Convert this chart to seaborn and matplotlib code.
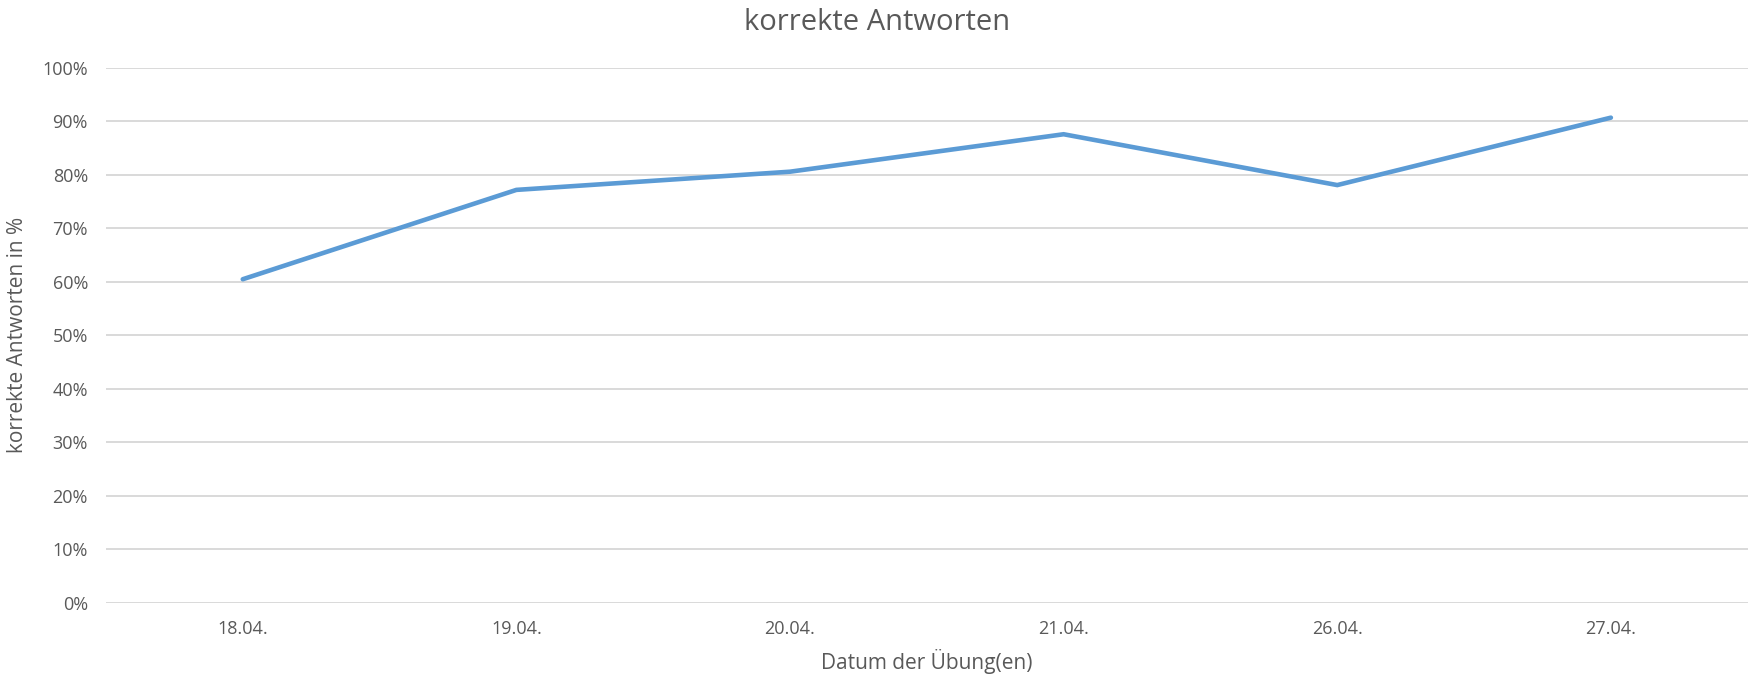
import pandas as pd
import matplotlib.pyplot as plt
import seaborn as sns
from matplotlib.ticker import PercentFormatter

# Data
dates = ["18.04.", "19.04.", "20.04.", "21.04.", "26.04.", "27.04."]
correct_share = [0.605, 0.772, 0.806, 0.876, 0.781, 0.907]

df = pd.DataFrame({"Datum": dates, "Korrekt": correct_share})

sns.set_theme(style="white")
plt.rcParams["font.family"] = ["Open Sans", "DejaVu Sans"]

text_col = "#595959"
grid_col = "#D9D9D9"

fig = plt.figure(figsize=(17.54, 6.79), dpi=100)
ax = fig.add_axes([0.0604, 0.112, 0.936, 0.788])

sns.lineplot(data=df, x="Datum", y="Korrekt", ax=ax, color="#5B9BD5",
             linewidth=3.3, sort=False, solid_capstyle="round",
             solid_joinstyle="miter")

ax.set_xlim(-0.5, len(dates) - 0.5)
ax.set_ylim(0, 1.0)
ax.set_yticks([i / 10 for i in range(11)])
ax.yaxis.set_major_formatter(PercentFormatter(1.0, decimals=0))

ax.grid(axis="y", color=grid_col, linewidth=1.4)
ax.grid(axis="x", visible=False)
ax.set_axisbelow(True)
for s in ax.spines.values():
    s.set_visible(False)

ax.tick_params(axis="both", length=0, labelsize=13, colors=text_col)
ax.tick_params(axis="y", pad=13)
ax.tick_params(axis="x", pad=12)

ax.set_xlabel("Datum der Übung(en)", fontsize=15, color=text_col, labelpad=8)
ax.set_ylabel("korrekte Antworten in %", fontsize=15, color=text_col, labelpad=10)
fig.suptitle("korrekte Antworten", fontsize=21, color=text_col, y=0.967, va="center")

fig.savefig("out.png", dpi=100, facecolor="white")
